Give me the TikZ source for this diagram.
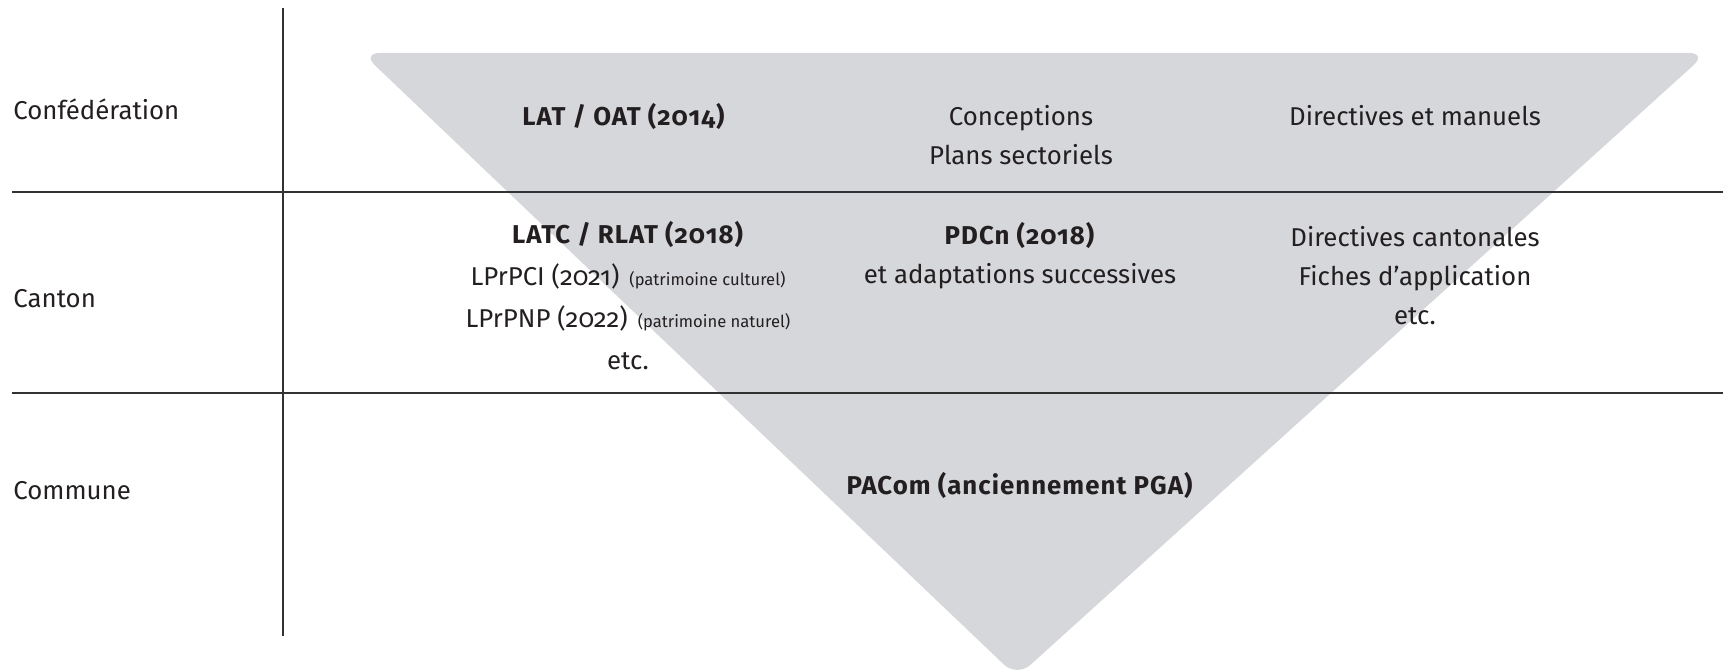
\documentclass[tikz,border=0pt]{standalone}
\usepackage{fontspec}
\setmainfont{Fira Sans}[Numbers=OldStyle, BoldFeatures={LetterSpace=4}]
\usetikzlibrary{positioning}
\definecolor{funBase}{RGB}{214,215,218}
\definecolor{ruleEdge}{RGB}{50,50,50}
\definecolor{txtBase}{RGB}{35,31,32}
\newcommand{\heritage}[1]{\hspace{5pt}{\fontsize{8.3}{10}\selectfont #1}}

\begin{document}
\begin{tikzpicture}[
    x=0.5pt, y=-0.5pt,
    level/.style={anchor=west, inner sep=0pt, font=\fontsize{12.9}{19.5}\selectfont, text=txtBase},
    cell/.style={align=center, inner sep=0pt, font=\fontsize{12.9}{19.5}\selectfont, text=txtBase},
    rule/.style={draw=ruleEdge, line width=1pt}
]
\useasboundingbox (0,0) rectangle (1723,672);

% Funnel
\fill[funBase, rounded corners=9pt] (362,53) -- (1707,53) -- (1017,677) -- cycle;

% Grid
\draw[rule] (283,8) -- (283,636);
\draw[rule] (12,192) -- (1723,192);
\draw[rule] (12,393) -- (1723,393);

% Levels
\node[level] (conf) at (13,109) {Confédération};
\node[level] (canton) at (13,299) {Canton};
\node[level] (commune) at (13,491) {Commune};

% Confederation row
\node[cell] (lat) at (624,116) {\textbf{LAT / OAT (2014)}};
\node[cell] (concepts) at (1021,135) {Conceptions\\Plans sectoriels};
\node[cell] (dirFed) at (1415,116) {Directives et manuels};

% Canton row
\node[cell, font=\fontsize{12.9}{21}\selectfont] (latc) at (628,296) {\textbf{LATC / RLAT (2018)}\\LPrPCI (2021)\heritage{(patrimoine culturel)}\\LPrPNP (2022)\heritage{(patrimoine naturel)}\\etc.};
\node[cell] (pdcn) at (1020,256) {\textbf{PDCn (2018)}\\et adaptations successives};
\node[cell] (dirCant) at (1415,276) {Directives cantonales\\Fiches d’application\\etc.};

% Commune row
\node[cell] (pacom) at (1020,485) {\textbf{PACom (anciennement PGA)}};

\end{tikzpicture}
\end{document}
